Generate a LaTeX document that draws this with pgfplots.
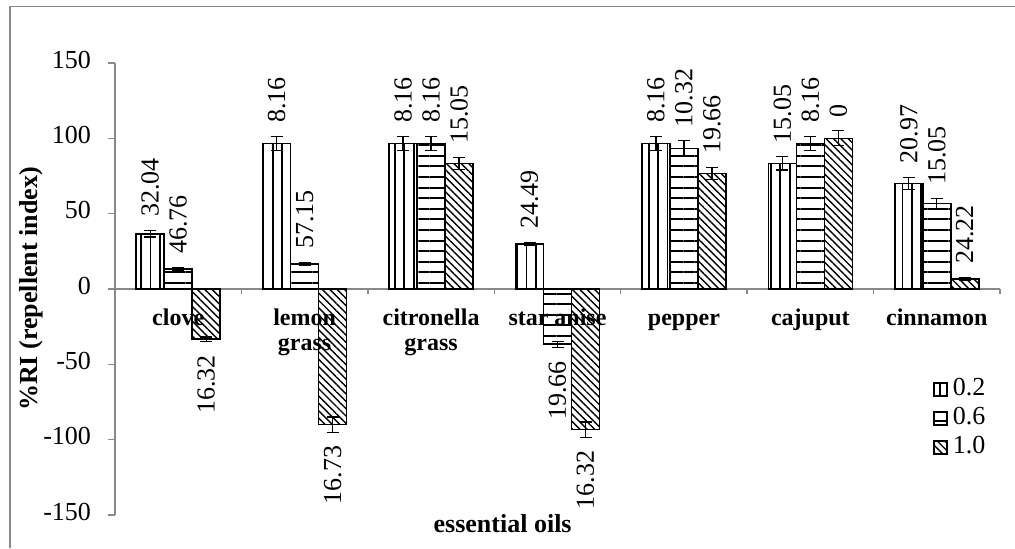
\documentclass[border=0pt]{standalone}
\usepackage{fontspec}
\setmainfont{Liberation Serif}
\usepackage{pgfplots}
\pgfplotsset{compat=1.18}
\usetikzlibrary{patterns.meta}
\definecolor{axgray}{HTML}{898989}

\begin{document}
\begin{tikzpicture}
\begin{axis}[
    at={(57.5pt,16.5pt)}, anchor=south west,
    scale only axis, width=442.5pt, height=226pt,
    xmin=-0.5, xmax=6.5, ymin=-150, ymax=150,
    axis y line=left, axis x line=middle,
    axis line style={-, draw=axgray, line width=0.75pt},
    hide obscured x ticks=false, hide obscured y ticks=false,
    ytick={-150,-100,...,150},
    major tick length=3.5pt, minor tick length=2.5pt,
    tick align=outside,
    ytick style={draw=axgray, line width=0.75pt},
    xtick={0,...,6},
    major x tick style={draw=none},
    minor xtick={0.5,1.5,...,6.5},
    minor x tick style={draw=axgray, line width=0.75pt},
    xticklabels={clove, {lemon\\grass}, {citronella\\grass}, star anise, pepper, cajuput, cinnamon},
    typeset ticklabels with strut,
    xticklabel style={font=\bfseries\fontsize{12}{12.5}\selectfont, align=center, yshift=-2.5pt},
    yticklabel style={font=\fontsize{13}{13}\selectfont, xshift=-5pt},
    /pgf/number format/assume math mode=true,
    xlabel={essential oils},
    xlabel style={at={(axis description cs:0.438,0)}, anchor=center, yshift=-4.5pt,
        font=\bfseries\fontsize{13}{13}\selectfont},
    ylabel={\%RI (repellent index)},
    ylabel style={at={(axis description cs:-0.0944,0.5)}, anchor=center,
        font=\bfseries\fontsize{13}{13}\selectfont},
    ybar=0pt, bar width=14pt,
    point meta=explicit symbolic,
    nodes near coords={\pgfplotspointmeta},
    visualization depends on={value \thisrow{anc} \as \anc},
    visualization depends on={\thisrow{e} \as \err},
    visualization depends on={\thisrow{s} \as \sgn},
    nodes near coords style={yshift={\sgn*(\err*0.7533pt+6.5pt)}, rotate=90, anchor=\anc,
        inner sep=0pt, font=\fontsize{13}{13}\selectfont},
    legend image code/.code={\draw[#1, line width=0.8pt] (0pt,-3.25pt) rectangle (6.5pt,3.25pt);},
    legend style={at={(axis description cs:0.924,0.3075)}, anchor=north west,
        draw=none, fill=none, inner sep=0pt, row sep=1.5pt,
        font=\fontsize{13}{13}\selectfont,
        nodes={inner sep=0.5pt, text height=9pt, text depth=3pt},
        /tikz/every odd column/.append style={xshift=0pt}},
    legend cell align=left,
]
\addplot[draw=black, line width=0.8pt,
    pattern={Lines[angle=90, distance=4.7pt, line width=0.9pt]},
    error bars/.cd, y dir=both, y explicit,
    error bar style={black, line width=0.6pt},
    error mark options={black, rotate=90, mark size=3pt, line width=0.6pt}]
    table[x=x, y=y, y error=e, meta=lab] {
x y e lab anc s
0 36.67 2.2 32.04 west 1
1 96.67 4.6 8.16 west 1
2 96.67 4.6 8.16 west 1
3 30.00 1.0 24.49 west 1
4 96.67 4.6 8.16 west 1
5 83.33 4.4 15.05 west 1
6 70.00 4.2 20.97 west 1
};
\addlegendentry{\hspace{2pt}0.2}
\addplot[draw=black, line width=0.8pt,
    pattern={Lines[angle=0, distance=5.3pt, line width=1pt]},
    error bars/.cd, y dir=both, y explicit,
    error bar style={black, line width=0.6pt},
    error mark options={black, rotate=90, mark size=3pt, line width=0.6pt}]
    table[x=x, y=y, y error=e, meta=lab] {
x y e lab anc s
0 13.33 1.0 46.76 west 1
1 16.67 1.0 57.15 west 1
2 96.67 4.6 8.16 west 1
3 -36.67 2.0 19.66 east -1
4 93.33 5.0 10.32 west 1
5 96.67 4.6 8.16 west 1
6 56.67 3.3 15.05 west 1
};
\addlegendentry{\hspace{2pt}0.6}
\addplot[draw=black, line width=0.8pt,
    pattern={Lines[angle=-45, distance=2.6pt, line width=0.7pt]},
    error bars/.cd, y dir=both, y explicit,
    error bar style={black, line width=0.6pt},
    error mark options={black, rotate=90, mark size=3pt, line width=0.6pt}]
    table[x=x, y=y, y error=e, meta=lab] {
x y e lab anc s
0 -33.33 1.5 16.32 east -1
1 -90.00 5.0 16.73 east -1
2 83.33 3.9 15.05 west 1
3 -93.33 5.0 16.32 east -1
4 76.67 3.9 19.66 west 1
5 100.00 5.0 0 west 1
6 6.67 1.0 24.22 west 1
};
\addlegendentry{\hspace{2pt}1.0}
\end{axis}
\draw[axgray, line width=0.75pt] (5pt,0pt) -- (5pt,270.7pt) -- (507.5pt,270.7pt);
\pgfresetboundingbox
\path[use as bounding box] (0pt,0pt) rectangle (507.5pt,274pt);
\end{tikzpicture}
\end{document}
